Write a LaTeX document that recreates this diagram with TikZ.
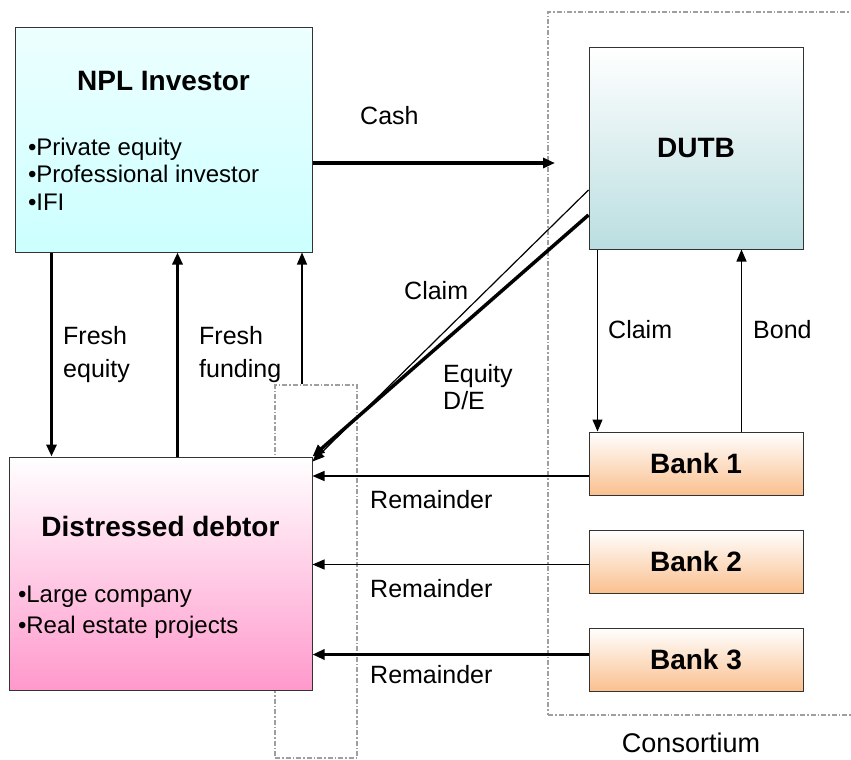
\documentclass[tikz,border=0pt]{standalone}
\usepackage{fontspec}
\setmainfont{Liberation Sans}
\usepackage{array}
\usetikzlibrary{arrows.meta,positioning}

\definecolor{nplcyan}{RGB}{204,255,255}
\definecolor{dutbteal}{RGB}{186,222,224}
\definecolor{debtorpink}{RGB}{255,153,204}
\definecolor{bankorange}{RGB}{250,192,143}

\newcommand{\boxtitle}{\fontsize{28}{32}\selectfont\bfseries}

\begin{document}
\begin{tikzpicture}[x=1pt, y=-1pt, >={Triangle[length=12pt,width=10pt]},
  box/.style={rectangle, draw=black!80, line width=1pt, inner sep=0pt},
  bank/.style={box, top color=white, bottom color=bankorange, minimum width=214pt, minimum height=63pt, font=\boxtitle},
  zone/.style={rectangle, draw=gray!75, line width=2pt, dash pattern=on 5pt off 2pt on 1.5pt off 2pt, inner sep=0pt},
  thin arrow/.style={->, line width=1.2pt},
  thick arrow/.style={->, line width=3.5pt},
  lbl/.style={anchor=base west, inner sep=0pt, font=\fontsize{25}{33}\selectfont},
  lbl2/.style={anchor=north west, inner sep=0pt, align=left}]
\clip (0,0) rectangle (851,760);

% dashed groups
\node[zone, minimum width=322pt, minimum height=703pt] (consortium) at (709,363.5) {};
\node[zone, minimum width=82pt, minimum height=373pt] (dashbox) at (316,571.5) {};
\node[anchor=base, inner sep=0pt, font=\fontsize{27}{32}\selectfont] (consortiumlbl) at (691,752) {Consortium};

% parties
\node[box, top color=nplcyan!35, bottom color=nplcyan, minimum width=297pt, minimum height=224pt] (npl) at (163.5,140)
{\fontsize{24}{27.5}\selectfont\begin{tabular}{@{}p{271pt}@{}}
 \multicolumn{1}{c}{\rule{0pt}{29pt}\boxtitle NPL Investor}\\[37.5pt]
 •Private equity\\
 •Professional investor\\
 •IFI
\end{tabular}};

\node[box, top color=white, bottom color=dutbteal, minimum width=214pt, minimum height=201pt, font=\boxtitle] (dutb) at (696,148.5) {DUTB};

\node[box, top color=white, bottom color=debtorpink, minimum width=303pt, minimum height=233pt] (debtor) at (160.5,573.5)
{\fontsize{24}{31}\selectfont\begin{tabular}{@{}p{285pt}@{}}
 \multicolumn{1}{c}{\rule{0pt}{32pt}\boxtitle Distressed debtor}\\[35pt]
 •Large company\\
 •Real estate projects
\end{tabular}};

\node[bank] (bank1) at (696,463.5) {Bank 1};
\node[bank, below=34pt of bank1] (bank2) {Bank 2};
\node[bank, below=34pt of bank2] (bank3) {Bank 3};

% flows
\draw[thick arrow] ([xshift=37pt]npl.south west) -- ([xshift=37pt]npl.south west |- debtor.north);
\draw[thick arrow] ([xshift=163pt]npl.south west |- debtor.north) -- ([xshift=163pt]npl.south west);
\draw[thin arrow] ([xshift=28pt]dashbox.north west) -- ([xshift=28pt]dashbox.north west |- npl.south);
\draw[thick arrow] ([yshift=-23pt]npl.east) -- ([yshift=-23pt,xshift=8pt]npl.east -| consortium.west);

\draw[thin arrow] ([yshift=-41.5pt]dutb.west) -- ([yshift=-5pt]debtor.north east);
\draw[thick arrow] ([yshift=-66.5pt]dutb.west) -- (debtor.north east);

\draw[thin arrow] ([xshift=9pt]dutb.south west) -- ([xshift=9pt]dutb.south west |- bank1.north);
\draw[thin arrow] ([xshift=153pt]bank1.north west) -- ([xshift=153pt]bank1.north west |- dutb.south);

\draw[thin arrow] ([yshift=-12.5pt]bank1.west) -- ([yshift=-12.5pt]bank1.west -| debtor.east);
\draw[thin arrow] ([yshift=-3pt]bank2.west) -- ([yshift=-3pt]bank2.west -| debtor.east);
\draw[thick arrow] ([yshift=5pt]bank3.west) -- ([yshift=5pt]bank3.west -| debtor.east);

% labels
\node[lbl] (cashlbl) at (360,124) {Cash};
\node[lbl, lbl2] (equitylbl) at (63,326) {Fresh\\equity};
\node[lbl, lbl2] (fundinglbl) at (199,326) {Fresh\\funding};
\node[lbl] (claimlbl) at (404,299) {Claim};
\node[lbl, lbl2, font=\fontsize{25}{27}\selectfont] (delbl) at (443,364) {Equity\\D/E};
\node[lbl] (claimlbl2) at (608,338) {Claim};
\node[lbl] (bondlbl) at (753,338) {Bond};
\node[lbl] (rest1) at (370,508) {Remainder};
\node[lbl] (rest2) at (370,597) {Remainder};
\node[lbl] (rest3) at (370,683) {Remainder};
\end{tikzpicture}
\end{document}
